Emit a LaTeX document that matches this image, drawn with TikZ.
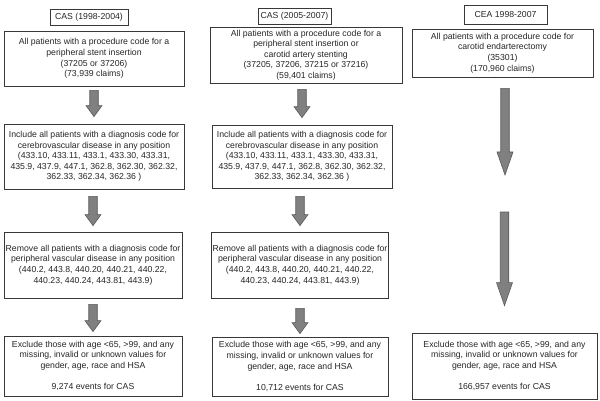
\documentclass[tikz,border=0pt]{standalone}
\usepackage{fontspec}
\setmainfont{Liberation Sans}
\usetikzlibrary{calc}

\tikzset{
  box/.style={draw=black!78, line width=0.8pt, align=center, inner sep=1pt,
    text=black!85, font=\fontsize{8.7}{10.6}\selectfont},
  titlebox/.style={box},
  headlen/.store in=\arrowheadlen, headlen=11pt,
  bigarrow/.style={draw=black!65, fill=black!50, line width=0.6pt,
    to path={let \p1=(\tikztostart), \p2=(\tikztotarget) in
      (\x2-4.25pt,\y1) -- (\x2-4.25pt,\y2+\arrowheadlen) -- (\x2-8pt,\y2+\arrowheadlen)
      -- (\x2,\y2) -- (\x2+8pt,\y2+\arrowheadlen) -- (\x2+4.25pt,\y2+\arrowheadlen)
      -- (\x2+4.25pt,\y1) -- cycle}},
}

\begin{document}
\begin{tikzpicture}[x=1pt,y=-1pt]
  \useasboundingbox (0,0) rectangle (600,401);

  % CAS 1998-2004
  \node[titlebox, minimum width=78pt, minimum height=16pt] (t1) at (89,17) {CAS (1998-2004)};
  \node[box, minimum width=180pt, minimum height=55pt] (a1) at (94,58.5)
    {All patients with a procedure code for a\\peripheral stent insertion\\(37205 or 37206)\\(73,939 claims)};
  \node[box, minimum width=180pt, minimum height=65pt] (b1) at (94,156.5)
    {Include all patients with a diagnosis code for\\cerebrovascular disease in any position\\(433.10, 433.11, 433.1, 433.30, 433.31,\\435.9, 437.9, 447.1, 362.8, 362.30, 362.32,\\362.33, 362.34, 362.36 )};
  \node[box, minimum width=178pt, minimum height=66pt] (c1) at (93,265)
    {Remove all patients with a diagnosis code for\\peripheral vascular disease in any position\\(440.2, 443.8, 440.20, 440.21, 440.22,\\440.23, 440.24, 443.81, 443.9)};
  \node[box, minimum width=178pt, minimum height=60pt] (d1) at (93,366)
    {Exclude those with age <65, >99, and any\\missing, invalid or unknown values for\\gender, age, race and HSA\\[10.6pt]9,274 events for CAS};

  \draw[bigarrow] ([yshift=-4pt]a1.south) to ([yshift=7pt]b1.north);
  \draw[bigarrow] ([yshift=-7pt]b1.south) to ([yshift=6pt]c1.north);
  \draw[bigarrow] ([yshift=-6pt]c1.south) to ([yshift=4pt]d1.north);

  % CAS 2005-2007
  \node[titlebox, minimum width=73pt, minimum height=16pt] (t2) at (294.5,16) {CAS (2005-2007)};
  \node[box, minimum width=192pt, minimum height=56pt] (a2) at (306,55)
    {All patients with a procedure code for a\\peripheral stent insertion or\\carotid artery stenting\\(37205, 37206, 37215 or 37216)\\(59,401 claims)};
  \node[box, minimum width=180pt, minimum height=63pt] (b2) at (302,156.5)
    {Include all patients with a diagnosis code for\\cerebrovascular disease in any position\\(433.10, 433.11, 433.1, 433.30, 433.31,\\435.9, 437.9, 447.1, 362.8, 362.30, 362.32,\\362.33, 362.34, 362.36 )};
  \node[box, minimum width=176pt, minimum height=66pt] (c2) at (300,265)
    {Remove all patients with a diagnosis code for\\peripheral vascular disease in any position\\(440.2, 443.8, 440.20, 440.21, 440.22,\\440.23, 440.24, 443.81, 443.9)};
  \node[box, minimum width=176pt, minimum height=59pt] (d2) at (300,366.5)
    {Exclude those with age <65, >99, and any\\missing, invalid or unknown values for\\gender, age, race and HSA\\[10.6pt]10,712 events for CAS};

  \draw[bigarrow] ([yshift=-6pt]a2.south) to ([yshift=7pt]b2.north);
  \draw[bigarrow] ([yshift=-8pt]b2.south) to ([yshift=6pt]c2.north);
  \draw[bigarrow] ([yshift=-10pt]c2.south) to ([yshift=3pt]d2.north);

  % CEA 1998-2007
  \node[titlebox, minimum width=83pt, minimum height=19pt] (t3) at (505.5,14.5) {CEA 1998-2007};
  \node[box, minimum width=181pt, minimum height=48pt] (a3) at (502.5,53)
    {All patients with a procedure code for\\carotid endarterectomy\\(35301)\\(170,960 claims)};
  \node[box, minimum width=185pt, minimum height=66pt] (d3) at (504.5,366)
    {Exclude those with age <65, >99, and any\\missing, invalid or unknown values for\\gender, age, race and HSA\\[10.6pt]166,957 events for CAS};
  \coordinate (m3) at (505,175);
  \coordinate (n3) at (505,212);

  \draw[bigarrow, headlen=23pt] ([yshift=-11pt]a3.south) to (m3);
  \draw[bigarrow, headlen=23pt] (n3) to ([yshift=27pt]d3.north);
\end{tikzpicture}
\end{document}
